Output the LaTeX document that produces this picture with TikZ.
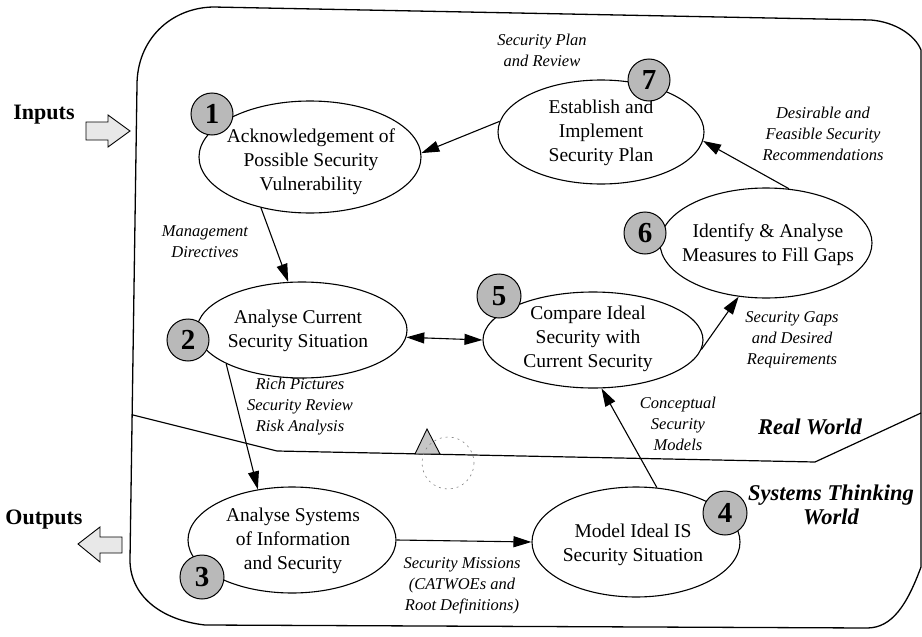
\documentclass[tikz,border=0pt]{standalone}
\usepackage{fontspec}
\setmainfont{Liberation Serif}
\usetikzlibrary{shapes.geometric,arrows.meta}

\tikzset{
  proc/.style={ellipse, draw, line width=1.1pt, inner sep=0pt},
  ptext/.style={align=center, inner sep=0pt, font=\fontsize{19.5}{24}\selectfont},
  lbl/.style={align=center, inner sep=0pt, font=\fontsize{16.5}{21}\selectfont\itshape},
  world/.style={align=center, inner sep=0pt, font=\fontsize{22.5}{24}\selectfont\bfseries\itshape},
  iotext/.style={inner sep=0pt, font=\fontsize{22}{24}\selectfont\bfseries},
  numdisc/.style={circle, draw, line width=1pt, fill=gray!55, minimum size=42pt,
                  inner sep=0pt, font=\fontsize{29}{29}\selectfont\bfseries},
  flow/.style={line width=1.1pt, -{Triangle[length=18pt,width=11pt]}},
  twoway/.style={line width=1.1pt, {Triangle[length=18pt,width=11pt]}-{Triangle[length=18pt,width=11pt]}},
  border/.style={line width=1.3pt, line join=round},
  blockarrow/.style={draw, line width=0.9pt, fill=gray!18, line join=miter},
}

\begin{document}
\begin{tikzpicture}[x=1pt, y=-1pt]
\useasboundingbox (0,0) rectangle (922,637);

% outer boundary of the activity system
\draw[border] (213,7) -- (871,20)
  .. controls (895,22) and (915,35) .. (921,50) -- (921,567)
  .. controls (907,605) and (892,628) .. (867,628) -- (205,625)
  .. controls (160,620) and (130,595) .. (130,560) -- (137,85)
  .. controls (137,40) and (170,8) .. (213,7) -- cycle;

% boundary between the real world and systems thinking
\draw[line width=1.2pt, line join=round] (133,415) -- (277,451) -- (815,462) -- (921,413);
\draw[line width=0.9pt, fill=gray!45] (415,454) -- (427,429) -- (440,454) -- cycle;
\draw[gray, line width=0.6pt, dash pattern=on 2pt off 4pt] (448,463) circle (26);

% inputs and outputs
\node[iotext] (inlbl) at (44,115) {Inputs};
\draw[blockarrow] (86,122) -- (108,122) -- (108,115) -- (130,131) -- (108,147) -- (108,140) -- (86,140) -- cycle;
\node[iotext] (outlbl) at (44,520) {Outputs};
\draw[blockarrow] (122,537) -- (100,537) -- (100,527) -- (78,544) -- (100,562) -- (100,553) -- (122,553) -- cycle;

% activities
\node[proc, minimum width=222pt, minimum height=112pt] (e1) at (310,157) {};
\node[ptext] (t1) at (311,162) {Acknowledgement of\\Possible Security\\Vulnerability};

\node[proc, minimum width=210pt, minimum height=96pt] (e2) at (302,330) {};
\node[ptext] (t2) at (298,331) {Analyse Current\\Security Situation};

\node[proc, minimum width=208pt, minimum height=106pt] (e3) at (292,540) {};
\node[ptext] (t3) at (293,541) {Analyse Systems\\of Information\\and Security};

\node[proc, minimum width=208pt, minimum height=110pt] (e4) at (636,542) {};
\node[ptext] (t4) at (633,545) {Model Ideal IS\\Security Situation};

\node[proc, minimum width=220pt, minimum height=96pt] (e5) at (593,340) {};
\node[ptext] (t5) at (588,339) {Compare Ideal\\Security with\\Current Security};

\node[proc, minimum width=212pt, minimum height=110pt] (e6) at (766,243) {};
\node[ptext] (t6) at (768,245) {Identify \& Analyse\\Measures to Fill Gaps};

\node[proc, minimum width=206pt, minimum height=104pt] (e7) at (601,132) {};
\node[ptext] (t7) at (601,133) {Establish and\\Implement\\Security Plan};

% flows between activities
\draw[flow] (e7.174) -- (e1.2);
\draw[flow] (e1.226) -- (e2.106);
\draw[twoway] (e2.-4) -- (e5.west);
\draw[flow] (e2.204) -- (e3.124);
\draw[flow] (e3.east) -- (e4.west);
\draw[flow] (e4.69) -- (e5.280);
\draw[flow] (e5.-5) -- (e6.243);
\draw[flow] (e6.67) -- (e7.-5);

% step numbers
\node[numdisc] (n1) at (212,114) {1};
\node[numdisc] (n2) at (188,340) {2};
\node[numdisc, minimum size=44pt] (n3) at (202,577) {3};
\node[numdisc, minimum size=44pt] (n4) at (725,513) {4};
\node[numdisc, minimum size=44pt] (n5) at (499,296) {5};
\node[numdisc] (n6) at (645,233) {6};
\node[numdisc] (n7) at (649,80) {7};

% flow labels
\node[lbl] (l71) at (542,50) {Security Plan\\and Review};
\node[lbl] (l12) at (205,242) {Management\\Directives};
\node[lbl] (l23) at (300,407) {Rich Pictures\\Security Review\\Risk Analysis};
\node[lbl] (l67) at (823,134) {Desirable and\\Feasible Security\\Recommendations};
\node[lbl] (l56) at (792,340) {Security Gaps\\and Desired\\Requirements};
\node[lbl] (l45) at (678,424) {Conceptual\\Security\\Models};
\node[lbl] (l34) at (462,586) {Security Missions\\(CATWOEs and\\Root Definitions)};

% world names
\node[world] (rw) at (810,427) {Real World};
\node[world] (stw) at (831,505) {Systems Thinking\\World};
\end{tikzpicture}
\end{document}
